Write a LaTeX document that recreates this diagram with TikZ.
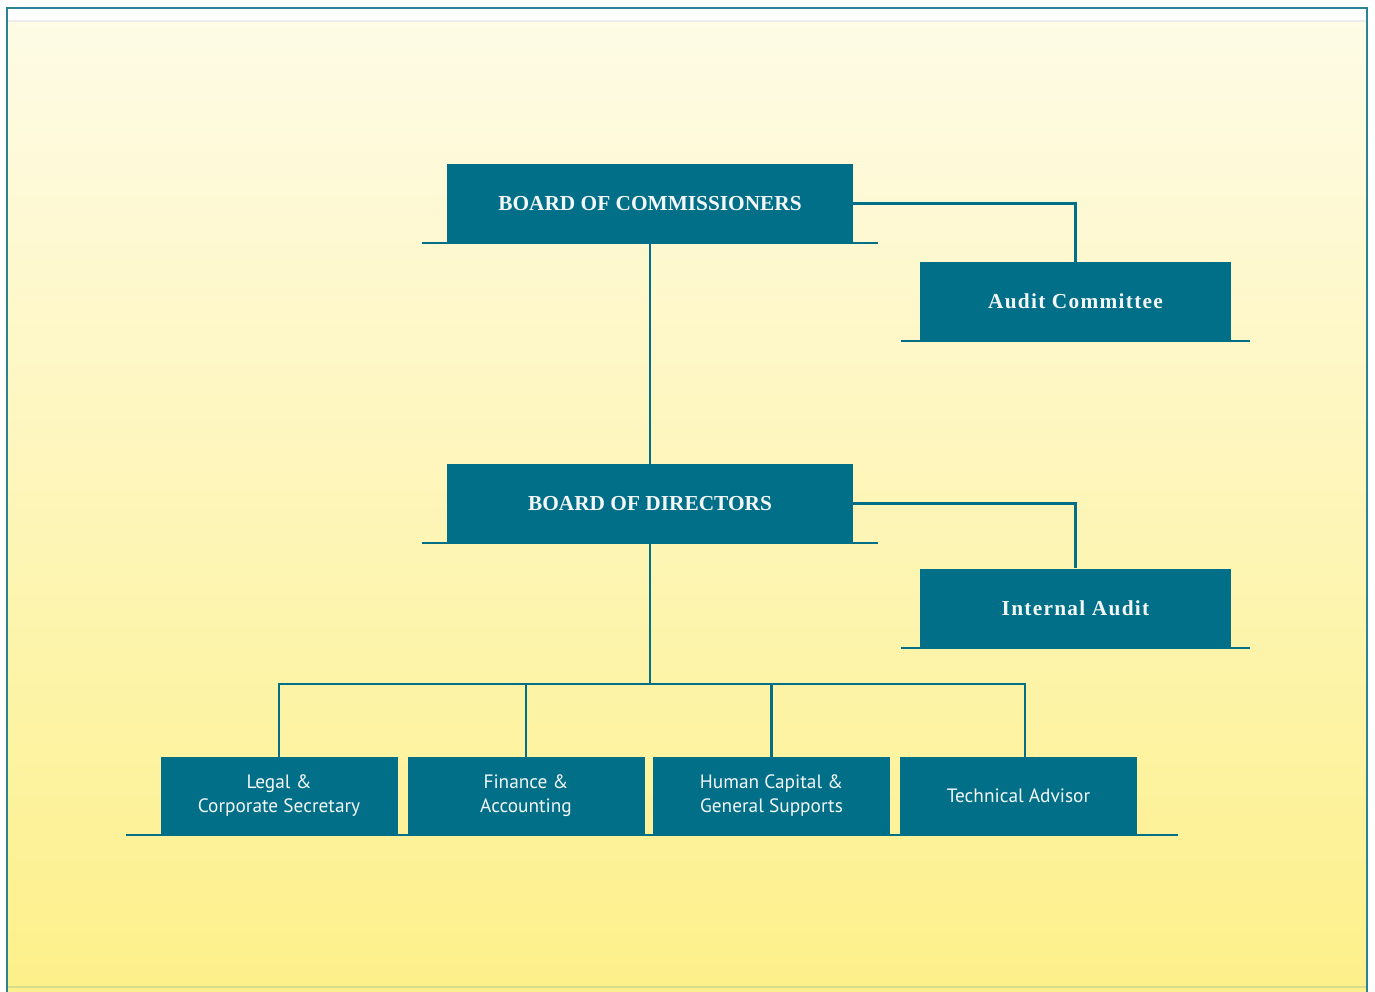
\documentclass[tikz,border=0pt]{standalone}
\usepackage{fontspec}
\setmainfont{Liberation Serif}
\newfontfamily\boxsans{PT Sans}
\definecolor{tealbox}{HTML}{006F87}
\definecolor{framecol}{HTML}{2A8496}
\definecolor{creamtop}{HTML}{FEFBE6}
\definecolor{yellowbot}{HTML}{FDF08A}
\definecolor{greenline}{HTML}{D6DE8C}
\definecolor{boxtext}{HTML}{F4F7F8}
\tikzset{
  headbox/.style={fill=tealbox, text=boxtext, inner sep=0pt, minimum height=59.25pt,
    font=\fontsize{16}{19}\selectfont\bfseries},
  spaced/.style={font=\fontsize{16}{19}\selectfont\bfseries\addfontfeature{LetterSpace=6}},
  unitbox/.style={fill=tealbox, text=boxtext, inner sep=0pt, minimum width=177.75pt,
    minimum height=58.5pt, align=center, font=\boxsans\fontsize{14.5}{18}\selectfont},
  conn/.style={draw=tealbox, line width=1.6pt},
  baseline/.style={draw=tealbox, line width=1.8pt}
}
\begin{document}
\begin{tikzpicture}[x=0.75pt,y=-0.75pt]
\useasboundingbox (0,0) rectangle (1375,992);
\fill[white] (0,0) rectangle (1375,992);
\shade[top color=creamtop, bottom color=yellowbot] (8,21) rectangle (1368,992);
\draw[draw=gray!15, line width=0.8pt] (8,21) -- (1368,21);
\draw[greenline, line width=1pt] (8,987) -- (1368,987);
\draw[framecol, line width=1.5pt] (7,992) -- (7,8) -- (1367,8) -- (1367,992);

% head boxes
\node[headbox, minimum width=304.5pt] (boc) at (650,203.5) {BOARD OF COMMISSIONERS};
\node[headbox, spaced, minimum width=233.25pt] (audit) at (1075.5,301.5) {Audit Committee};
\node[headbox, minimum width=304.5pt] (bod) at (650,503.5) {BOARD OF DIRECTORS};
\node[headbox, spaced, minimum width=233.25pt] (ia) at (1075.5,608) {Internal Audit};

% unit boxes
\node[unitbox] (legal) at (279,796) {Legal \&\\Corporate Secretary};
\node[unitbox] (fin) at (526,796) {Finance \&\\Accounting};
\node[unitbox] (hc) at (771.5,796) {Human Capital \&\\General Supports};
\node[unitbox] (tech) at (1018.5,796) {Technical Advisor};

% base lines
\draw[baseline] ([xshift=-18.75pt]boc.south west) -- ([xshift=18.75pt]boc.south east);
\draw[baseline] ([xshift=-18.75pt]bod.south west) -- ([xshift=18.75pt]bod.south east);
\draw[baseline] ([xshift=-14.25pt]audit.south west) -- ([xshift=14.25pt]audit.south east);
\draw[baseline] ([xshift=-14.25pt]ia.south west) -- ([xshift=14.25pt]ia.south east);
\draw[baseline] ([xshift=-25.5pt]legal.south west) -- ([xshift=30.75pt]tech.south east);

% connectors
\coordinate (bus) at (650,684);
\coordinate (techdrop) at (1025,684);
\draw[conn] (boc.east) -| (audit.north);
\draw[conn] (bod.east) -| (ia.north);
\draw[conn] (boc.south) -- (bod.north);
\draw[conn] (bod.south) -- (bus);
\draw[conn] (bus) -| (legal.north);
\draw[conn] (bus) -| (fin.north);
\draw[conn] (bus) -| (hc.north);
\draw[conn] (bus) -- (techdrop) -- (techdrop |- tech.north);
\end{tikzpicture}
\end{document}
